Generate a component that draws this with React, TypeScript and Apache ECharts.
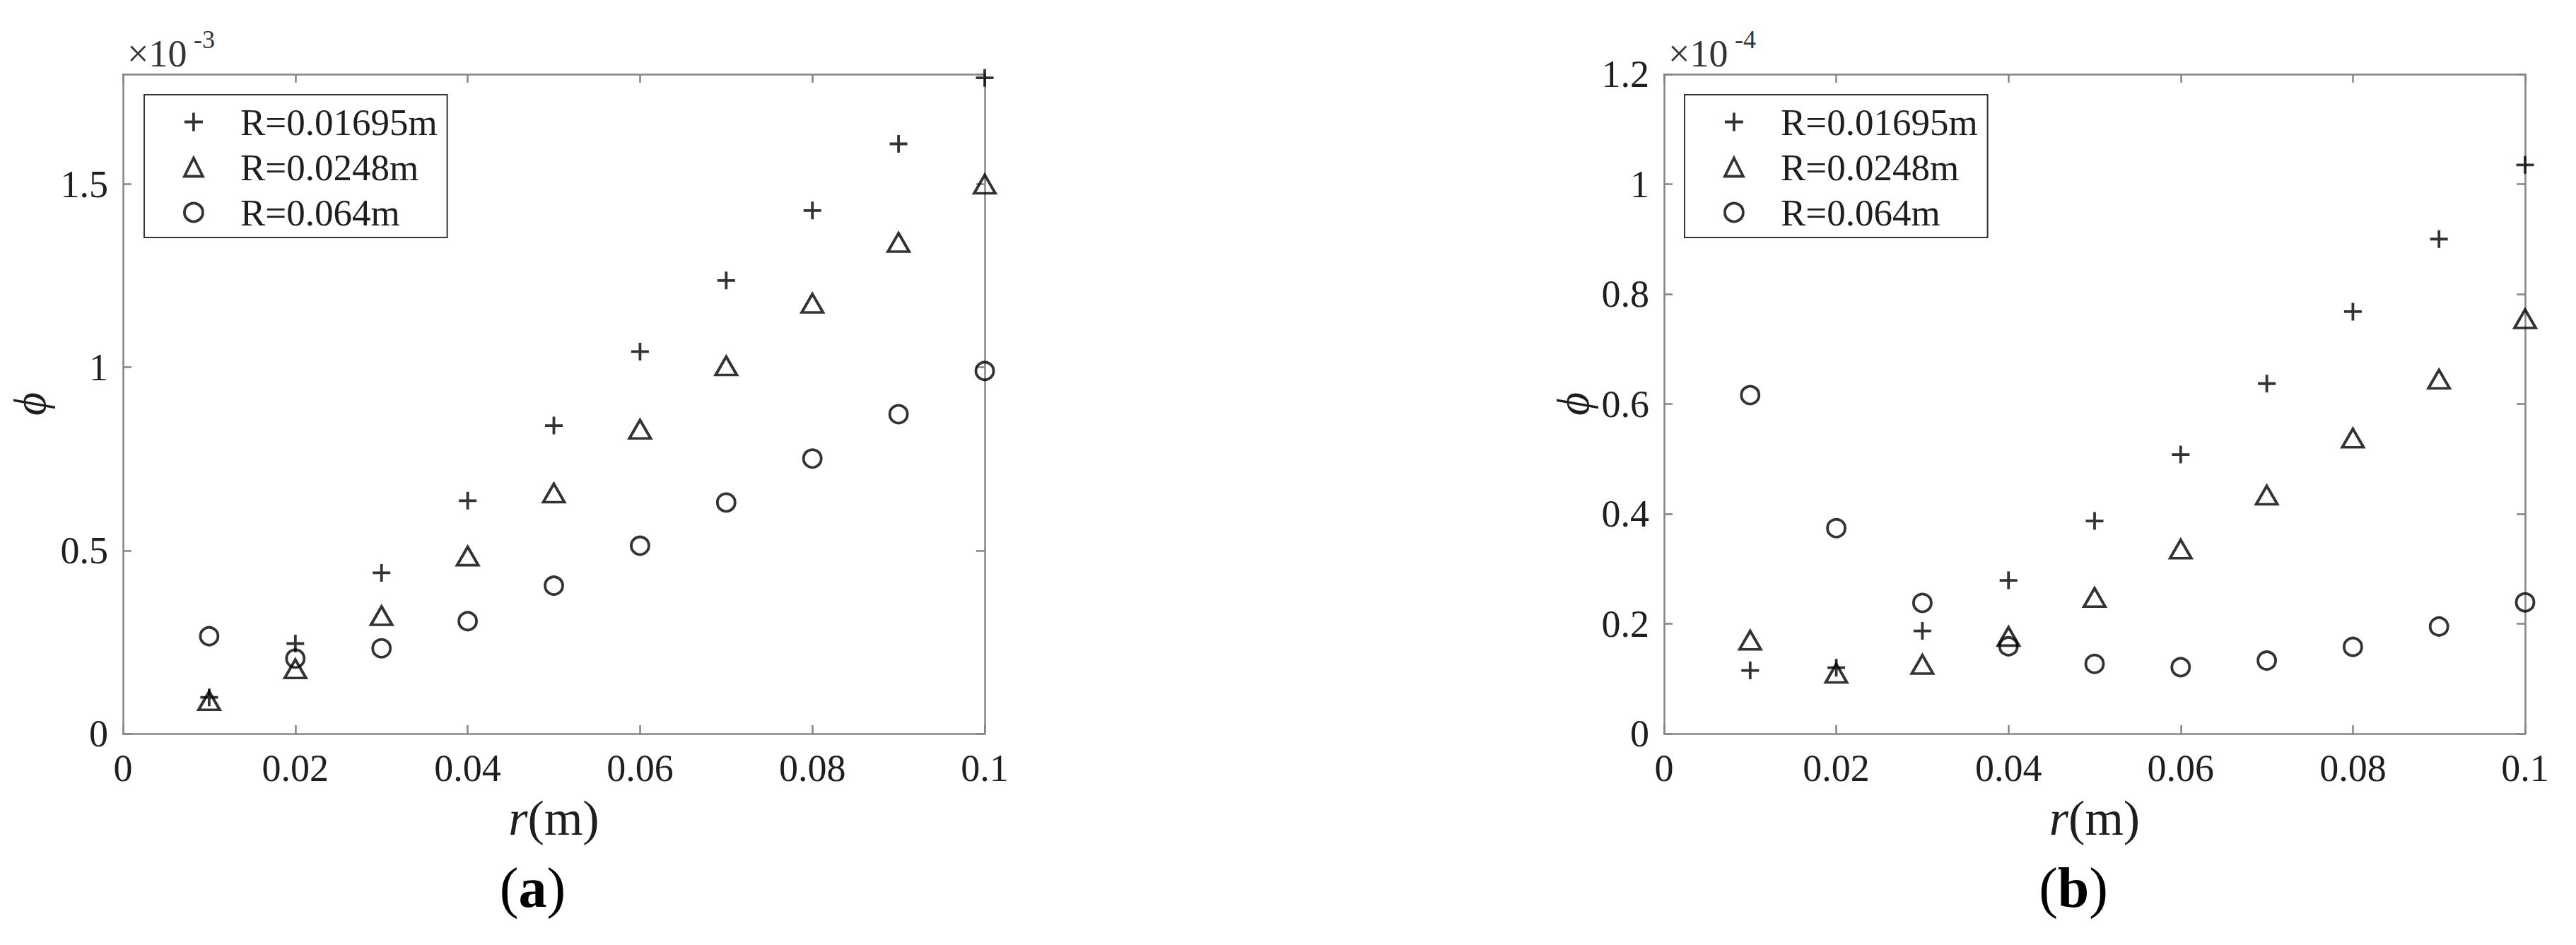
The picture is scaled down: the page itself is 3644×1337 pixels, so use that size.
import React, { useEffect, useRef } from "react";
import * as echarts from "echarts";

// ---------- data ----------
const R_VALUES = [0.01, 0.02, 0.03, 0.04, 0.05, 0.06, 0.07, 0.08, 0.09, 0.1];
const SERIES_NAMES = ["R=0.01695m", "R=0.0248m", "R=0.064m"];

// panel (a): values in units of 1e-3
const A_PLUS = [0.099, 0.246, 0.439, 0.636, 0.841, 1.043, 1.237, 1.428, 1.61, 1.79];
const A_TRI = [0.09, 0.177, 0.322, 0.485, 0.657, 0.831, 1.004, 1.175, 1.341, 1.5];
const A_CIRC = [0.266, 0.205, 0.233, 0.307, 0.404, 0.513, 0.631, 0.751, 0.872, 0.99];

// panel (b): values in units of 1e-4
const B_PLUS = [0.115, 0.12, 0.187, 0.279, 0.387, 0.508, 0.637, 0.768, 0.9, 1.035];
const B_TRI = [0.17, 0.11, 0.126, 0.177, 0.248, 0.336, 0.434, 0.538, 0.645, 0.755];
const B_CIRC = [0.616, 0.374, 0.238, 0.159, 0.127, 0.121, 0.133, 0.158, 0.195, 0.239];

const X_MIN = 0;
const X_MAX = 0.1;
const X_STEP = 0.02;
const A_Y_MAX = 1.8;
const A_Y_STEP = 0.5;
const B_Y_MAX = 1.2;
const B_Y_STEP = 0.2;
const A_EXP = "-3";
const B_EXP = "-4";
const PANEL_LABELS = ["a", "b"];

// ---------- styles ----------
const FONT = "'Liberation Serif', 'DejaVu Serif', serif";
const AXIS_COLOR = "#858585";
const TEXT_COLOR = "#1e1e1e";
const PLUS_PATH = "path://M0,5L10,5M5,0L5,10";
const MARK_W = 3.8;

const GRIDS = [
  { left: 174, top: 105, width: 1219, height: 933 },
  { left: 2354, top: 105, width: 1218, height: 933 },
];

function xAxis(gi: number, pos: "bottom" | "top") {
  const bottom = pos === "bottom";
  return {
    type: "value",
    gridIndex: gi,
    position: pos,
    min: X_MIN,
    max: X_MAX,
    interval: X_STEP,
    axisLine: { show: true, onZero: false, lineStyle: { color: AXIS_COLOR, width: 2.5 } },
    axisTick: { show: true, inside: true, length: 12, lineStyle: { color: AXIS_COLOR, width: 2.5 } },
    splitLine: { show: false },
    axisLabel: bottom
      ? { show: true, margin: 22, fontSize: 54, fontFamily: FONT, color: TEXT_COLOR }
      : { show: false },
    name: bottom ? "{i|r}(m)" : "",
    nameLocation: "middle",
    nameGap: 84,
    nameTextStyle: {
      fontSize: 70,
      fontFamily: FONT,
      color: TEXT_COLOR,
      rich: {
        i: { fontSize: 70, fontFamily: FONT, fontStyle: "italic", color: TEXT_COLOR },
      },
    },
  };
}

function yAxis(gi: number, pos: "left" | "right", max: number, step: number, gap: number, showMax: boolean) {
  const left = pos === "left";
  return {
    type: "value",
    gridIndex: gi,
    position: pos,
    min: 0,
    max,
    interval: step,
    axisLine: { show: true, onZero: false, lineStyle: { color: AXIS_COLOR, width: 2.5 } },
    axisTick: { show: true, inside: true, length: 12, lineStyle: { color: AXIS_COLOR, width: 2.5 } },
    splitLine: { show: false },
    axisLabel: left
      ? { show: true, margin: 21, fontSize: 54, fontFamily: FONT, color: TEXT_COLOR, showMaxLabel: showMax }
      : { show: false },
    name: left ? "ϕ" : "",
    nameLocation: "middle",
    nameRotate: 90,
    nameGap: gap,
    nameTextStyle: { fontSize: 64, fontFamily: FONT, fontStyle: "italic", color: TEXT_COLOR },
  };
}

const MARK_STYLE = { color: "transparent", borderColor: "#000", borderWidth: MARK_W };

function series(name: string, ys: number[], gi: number, symbol: string, size: any) {
  return {
    type: "scatter",
    name,
    xAxisIndex: gi * 2,
    yAxisIndex: gi * 2,
    data: R_VALUES.map((x, i) => [x, ys[i]]),
    symbol,
    symbolSize: size,
    itemStyle: MARK_STYLE,
    clip: false,
    silent: true,
  };
}

function legend(left: number) {
  return {
    show: true,
    orient: "vertical",
    left,
    top: 134,
    data: SERIES_NAMES,
    selectedMode: false,
    backgroundColor: "#fff",
    borderColor: "#333",
    borderWidth: 2,
    padding: [12, 14, 9, 55],
    itemGap: 11,
    itemWidth: 26,
    itemHeight: 26,
    itemStyle: { color: "transparent", borderColor: "#000", borderWidth: MARK_W },
    textStyle: {
      fontSize: 53,
      lineHeight: 52,
      fontFamily: FONT,
      color: TEXT_COLOR,
      padding: [0, 0, 0, 48],
    },
  };
}

function exponentText(gi: number, exp: string) {
  const x0 = GRIDS[gi].left + 6;
  return [
    {
      type: "text",
      x: x0,
      y: 76,
      silent: true,
      style: {
        text: "×10",
        fontSize: 54,
        fontFamily: FONT,
        fill: "#333",
        align: "left",
        verticalAlign: "middle",
        textAlign: "left",
        textVerticalAlign: "middle",
      },
    },
    {
      type: "text",
      x: x0 + 94,
      y: 56,
      silent: true,
      style: {
        text: exp,
        fontSize: 36,
        fontFamily: FONT,
        fill: "#333",
        align: "left",
        verticalAlign: "middle",
        textAlign: "left",
        textVerticalAlign: "middle",
      },
    },
  ];
}

function panelLabel(gi: number) {
  const g = GRIDS[gi];
  return {
    type: "text",
    x: g.left + g.width / 2 - 30,
    y: 1256,
    silent: true,
    style: {
      text: "({b|" + PANEL_LABELS[gi] + "})",
      fontSize: 80,
      fontFamily: FONT,
      fill: "#000",
      align: "center",
      verticalAlign: "middle",
      textAlign: "center",
      textVerticalAlign: "middle",
      rich: {
        b: { fontSize: 80, fontFamily: FONT, fontWeight: "bold", fill: "#000", color: "#000" },
      },
    },
  };
}

export default function App() {
  const ref = useRef<HTMLDivElement>(null);

  useEffect(() => {
    if (!ref.current) return;
    const chart = echarts.init(ref.current, null, { renderer: "svg" });
    const option: any = {
      animation: false,
      backgroundColor: "#fff",
      grid: GRIDS.map((g) => ({ ...g, containLabel: false })),
      xAxis: [xAxis(0, "bottom"), xAxis(0, "top"), xAxis(1, "bottom"), xAxis(1, "top")],
      yAxis: [
        yAxis(0, "left", A_Y_MAX, A_Y_STEP, 100, false),
        yAxis(0, "right", A_Y_MAX, A_Y_STEP, 0, false),
        yAxis(1, "left", B_Y_MAX, B_Y_STEP, 97, true),
        yAxis(1, "right", B_Y_MAX, B_Y_STEP, 0, false),
      ],
      legend: [legend(204), legend(2383)],
      series: [
        series(SERIES_NAMES[0], A_PLUS, 0, PLUS_PATH, 25),
        series(SERIES_NAMES[1], A_TRI, 0, "triangle", [30, 26]),
        series(SERIES_NAMES[2], A_CIRC, 0, "circle", 25),
        series(SERIES_NAMES[0], B_PLUS, 1, PLUS_PATH, 25),
        series(SERIES_NAMES[1], B_TRI, 1, "triangle", [30, 26]),
        series(SERIES_NAMES[2], B_CIRC, 1, "circle", 25),
      ],
      graphic: [
        ...exponentText(0, A_EXP),
        ...exponentText(1, B_EXP),
        panelLabel(0),
        panelLabel(1),
      ],
    };
    chart.setOption(option);
    return () => chart.dispose();
  }, []);

  return (
    <div
      ref={ref}
      style={{ position: "fixed", left: 0, top: 0, width: "3644px", height: "1337px", background: "#fff" }}
    />
  );
}
